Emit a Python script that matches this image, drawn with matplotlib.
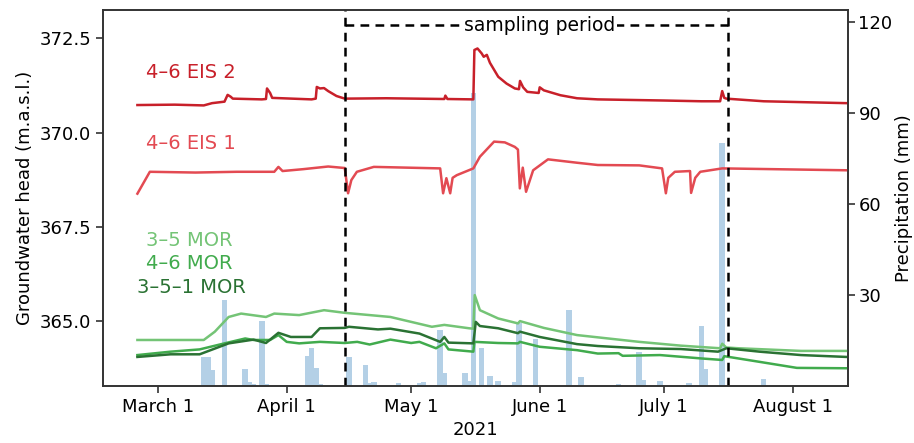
import numpy as np
import pandas as pd
import matplotlib
matplotlib.use('Agg')
import matplotlib.pyplot as plt
import matplotlib.dates as mdates

plt.rcParams['font.family'] = ['DejaVu Sans']

# daily precipitation (mm)
rain_dates = ['2021-03-12', '2021-03-13', '2021-03-14', '2021-03-17', '2021-03-22',
              '2021-03-23', '2021-03-24', '2021-03-26', '2021-03-27', '2021-04-06',
              '2021-04-07', '2021-04-08', '2021-04-09', '2021-04-16', '2021-04-20',
              '2021-04-21', '2021-04-22', '2021-04-28', '2021-05-03', '2021-05-04',
              '2021-05-08', '2021-05-09', '2021-05-14', '2021-05-15', '2021-05-16',
              '2021-05-18', '2021-05-20', '2021-05-22', '2021-05-25', '2021-05-26',
              '2021-05-27', '2021-05-29', '2021-05-31', '2021-06-08', '2021-06-11',
              '2021-06-20', '2021-06-25', '2021-06-26', '2021-06-30', '2021-07-07',
              '2021-07-10', '2021-07-11', '2021-07-15', '2021-07-25']
rain_mm = [9.7, 9.7, 5.3, 28.5, 5.6,
           1.4, 0.7, 21.3, 0.7, 10.0,
           12.4, 5.8, 0.5, 9.7, 6.9,
           1.1, 1.3, 1.1, 1.0, 1.3,
           18.3, 4.2, 4.2, 1.5, 96.7,
           12.4, 3.3, 1.7, 0.3, 1.4,
           20.7, 0.3, 15.5, 25.2, 2.8,
           0.7, 11.3, 2.0, 1.8, 1.1,
           19.8, 5.7, 80.2, 2.2]

# groundwater heads (m a.s.l.)
eis2_t = ['2021-02-24', '2021-03-05', '2021-03-12', '2021-03-14', '2021-03-17',
          '2021-03-17 18:00', '2021-03-18 12:00', '2021-03-19', '2021-03-26', '2021-03-27',
          '2021-03-27 06:00', '2021-03-28', '2021-03-28 12:00', '2021-04-07', '2021-04-08',
          '2021-04-08 06:00', '2021-04-09', '2021-04-10', '2021-04-11', '2021-04-13',
          '2021-04-15', '2021-04-25', '2021-05-09', '2021-05-09 06:00', '2021-05-09 18:00',
          '2021-05-16', '2021-05-16 06:00', '2021-05-17', '2021-05-18', '2021-05-18 12:00',
          '2021-05-19 06:00', '2021-05-20', '2021-05-22', '2021-05-24', '2021-05-26',
          '2021-05-27', '2021-05-27 06:00', '2021-05-28', '2021-05-29', '2021-05-31 18:00',
          '2021-06-01', '2021-06-02', '2021-06-06', '2021-06-10', '2021-06-15',
          '2021-07-01', '2021-07-10', '2021-07-14 12:00', '2021-07-15', '2021-07-15 12:00',
          '2021-07-16', '2021-07-25', '2021-08-14']
eis2_h = [370.73, 370.74, 370.72, 370.78, 370.82,
          371.00, 370.95, 370.90, 370.88, 370.89,
          371.17, 371.05, 370.92, 370.88, 370.90,
          371.21, 371.17, 371.18, 371.10, 370.97,
          370.90, 370.91, 370.89, 370.98, 370.89,
          370.88, 372.19, 372.23, 372.10, 372.01,
          372.06, 371.85, 371.48, 371.30, 371.17,
          371.15, 371.37, 371.20, 371.08, 371.05,
          371.20, 371.12, 370.99, 370.91, 370.88,
          370.85, 370.83, 370.83, 371.10, 370.92,
          370.90, 370.83, 370.78]

eis1_t = ['2021-02-24', '2021-02-27', '2021-03-10', '2021-03-20', '2021-03-29',
          '2021-03-30', '2021-03-31', '2021-04-05', '2021-04-11', '2021-04-15',
          '2021-04-15 19:00', '2021-04-16 14:00', '2021-04-17 22:00', '2021-04-22', '2021-05-08',
          '2021-05-08 17:00', '2021-05-09 12:00', '2021-05-10 10:00', '2021-05-11', '2021-05-12',
          '2021-05-16', '2021-05-17 14:00', '2021-05-21', '2021-05-23 14:00', '2021-05-26',
          '2021-05-26 18:00', '2021-05-27 05:00', '2021-05-27 22:00', '2021-05-28 17:00', '2021-05-30 10:00',
          '2021-06-03', '2021-06-10', '2021-06-15', '2021-06-25', '2021-06-30 12:00',
          '2021-07-01 10:00', '2021-07-02', '2021-07-03 14:00', '2021-07-07 06:00', '2021-07-07 12:00',
          '2021-07-08 12:00', '2021-07-09 17:00', '2021-07-15', '2021-08-14']
eis1_h = [368.38, 368.96, 368.94, 368.96, 368.96,
          369.09, 368.98, 369.03, 369.10, 369.06,
          368.39, 368.74, 368.96, 369.09, 369.05,
          368.39, 368.79, 368.39, 368.80, 368.87,
          369.05, 369.36, 369.76, 369.74, 369.62,
          369.55, 368.52, 369.07, 368.43, 369.00,
          369.29, 369.20, 369.14, 369.13, 369.05,
          368.39, 368.80, 368.96, 368.98, 368.40,
          368.80, 368.96, 369.05, 369.00]

mor35_t = ['2021-02-24', '2021-03-12', '2021-03-14 16:00', '2021-03-18', '2021-03-21',
           '2021-03-27', '2021-03-29', '2021-04-04', '2021-04-10', '2021-04-15',
           '2021-04-26', '2021-05-06', '2021-05-09', '2021-05-15', '2021-05-16',
           '2021-05-16 08:00', '2021-05-17 14:00', '2021-05-22', '2021-05-26 18:00', '2021-05-27 06:00',
           '2021-06-02', '2021-06-10', '2021-06-15', '2021-06-25', '2021-07-05',
           '2021-07-14 12:00', '2021-07-15', '2021-07-16', '2021-07-19', '2021-08-03',
           '2021-08-14']
mor35_h = [364.50, 364.50, 364.72, 365.11, 365.20,
           365.11, 365.20, 365.16, 365.29, 365.22,
           365.11, 364.85, 364.90, 364.81, 364.80,
           365.69, 365.29, 365.07, 364.94, 365.00,
           364.82, 364.63, 364.57, 364.45, 364.35,
           364.28, 364.40, 364.30, 364.28, 364.21,
           364.21]

mor46_t = ['2021-02-24', '2021-03-04', '2021-03-11', '2021-03-17', '2021-03-22',
           '2021-03-24', '2021-03-28', '2021-03-30', '2021-04-01', '2021-04-04',
           '2021-04-09', '2021-04-15', '2021-04-18', '2021-04-21', '2021-04-26',
           '2021-05-01', '2021-05-03', '2021-05-07', '2021-05-09', '2021-05-10',
           '2021-05-16', '2021-05-16 06:00', '2021-05-22', '2021-05-26 18:00', '2021-05-27 06:00',
           '2021-06-01', '2021-06-10', '2021-06-15', '2021-06-20', '2021-06-21',
           '2021-06-30', '2021-07-10', '2021-07-15', '2021-07-15 12:00', '2021-07-24',
           '2021-08-02', '2021-08-14']
mor46_h = [364.10, 364.19, 364.25, 364.41, 364.54,
           364.50, 364.50, 364.63, 364.45, 364.41,
           364.45, 364.42, 364.45, 364.38, 364.51,
           364.42, 364.45, 364.28, 364.41, 364.25,
           364.19, 364.45, 364.42, 364.41, 364.45,
           364.32, 364.23, 364.14, 364.15, 364.08,
           364.10, 364.01, 363.97, 364.07, 363.92,
           363.76, 363.75]

mor351_t = ['2021-02-24', '2021-03-04', '2021-03-11', '2021-03-18', '2021-03-24',
            '2021-03-27', '2021-03-30', '2021-04-02', '2021-04-07', '2021-04-09',
            '2021-04-15', '2021-04-16', '2021-04-23', '2021-04-26', '2021-05-03',
            '2021-05-08', '2021-05-09', '2021-05-10', '2021-05-16', '2021-05-16 14:00',
            '2021-05-17 14:00', '2021-05-22', '2021-05-26 18:00', '2021-05-27 06:00', '2021-06-01',
            '2021-06-10', '2021-06-15', '2021-06-25', '2021-07-05', '2021-07-14',
            '2021-07-16', '2021-07-24', '2021-08-03', '2021-08-14']
mor351_h = [364.05, 364.12, 364.12, 364.41, 364.51,
            364.42, 364.69, 364.58, 364.58, 364.81,
            364.82, 364.85, 364.78, 364.80, 364.67,
            364.45, 364.58, 364.43, 364.41, 364.98,
            364.87, 364.81, 364.68, 364.72, 364.58,
            364.39, 364.34, 364.28, 364.26, 364.19,
            364.28, 364.19, 364.10, 364.05]

sampling_start = '2021-04-15'
sampling_end = '2021-07-16 10:00'


def dt(lst):
    return pd.to_datetime(lst, format='mixed')


c_eis2 = '#c8202a'
c_eis1 = '#e34a52'
c_mor35 = '#74c476'
c_mor46 = '#41ab4d'
c_mor351 = '#2a7233'
c_rain = '#b4d0e6'

fig = plt.figure(figsize=(9.14, 4.43), dpi=100)
ax = fig.add_axes([0.1127, 0.1287, 0.8151, 0.8487])
ax2 = ax.twinx()

# precipitation bars behind the lines
ax2.bar(dt(rain_dates), rain_mm, width=1.35, color=c_rain, linewidth=0)
ax.set_zorder(ax2.get_zorder() + 1)
ax.patch.set_visible(False)

lw = 1.8
ax.plot(dt(eis2_t), eis2_h, color=c_eis2, lw=lw)
ax.plot(dt(eis1_t), eis1_h, color=c_eis1, lw=lw)
ax.plot(dt(mor35_t), mor35_h, color=c_mor35, lw=lw)
ax.plot(dt(mor46_t), mor46_h, color=c_mor46, lw=lw)
ax.plot(dt(mor351_t), mor351_h, color=c_mor351, lw=lw)

# sampling period
t0 = pd.Timestamp(sampling_start)
t1 = pd.Timestamp(sampling_end)
dash = (0, (3.5, 2.5))
ax.axvline(t0, color='k', lw=1.8, ls=dash)
ax.axvline(t1, color='k', lw=1.8, ls=dash)
ax.plot([t0, t1], [372.85, 372.85], color='k', lw=1.8, ls=dash)
ax.text(pd.Timestamp('2021-06-01'), 372.85, 'sampling period', fontsize=13.5,
        ha='center', va='center', bbox=dict(facecolor='white', edgecolor='none', pad=1))

# series labels
lab_x = pd.Timestamp('2021-02-26')
ax.text(lab_x, 371.58, '4–6 EIS 2', color=c_eis2, fontsize=14, va='center')
ax.text(lab_x, 369.72, '4–6 EIS 1', color=c_eis1, fontsize=14, va='center')
ax.text(lab_x, 367.15, '3–5 MOR', color=c_mor35, fontsize=14, va='center')
ax.text(lab_x, 366.54, '4–6 MOR', color=c_mor46, fontsize=14, va='center')
ax.text(pd.Timestamp('2021-02-24'), 365.90, '3–5–1 MOR', color=c_mor351, fontsize=14, va='center')

ax.set_xlim(pd.Timestamp('2021-02-15 17:00'), pd.Timestamp('2021-08-14 08:00'))
ax.set_ylim(363.28, 373.25)
ax2.set_ylim(0, 124)
ax.set_yticks([365.0, 367.5, 370.0, 372.5])
ax.yaxis.set_major_formatter(matplotlib.ticker.FormatStrFormatter('%.1f'))
ax2.set_yticks([30, 60, 90, 120])

ax.xaxis.set_major_locator(mdates.MonthLocator(bymonth=[3, 4, 5, 6, 7, 8]))
ax.xaxis.set_major_formatter(mdates.DateFormatter('%B 1'))

ax.set_ylabel('Groundwater head (m.a.s.l.)', fontsize=13)
ax2.set_ylabel('Precipitation (mm)', fontsize=13, labelpad=2)
ax.set_xlabel('2021', fontsize=13)

for a in (ax, ax2):
    a.tick_params(labelsize=13, length=5, width=1.2, color='#333333')
    for s in a.spines.values():
        s.set_color('#333333')
        s.set_linewidth(1.2)
ax2.tick_params(pad=2.5)

fig.savefig('out.png', dpi=100)
